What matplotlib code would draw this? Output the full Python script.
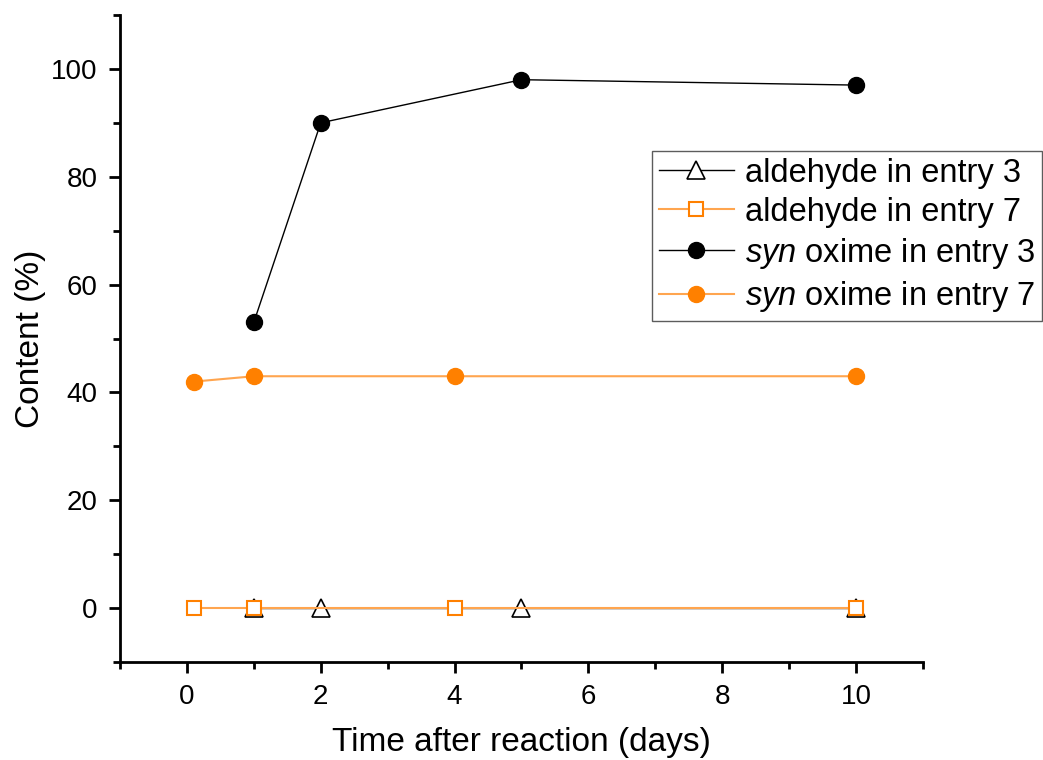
import matplotlib
matplotlib.use("Agg")
import matplotlib.pyplot as plt
from matplotlib.ticker import MultipleLocator

plt.rcParams['font.family'] = ['Liberation Sans', 'DejaVu Sans']
plt.rcParams['mathtext.fontset'] = 'custom'
plt.rcParams['mathtext.it'] = 'Liberation Sans:italic'
plt.rcParams['mathtext.rm'] = 'Liberation Sans'

x_e3 = [1, 2, 5, 10]
x_e7 = [0.1, 1, 4, 10]
ald_e3 = [0, 0, 0, 0]
ald_e7 = [0, 0, 0, 0]
syn_e3 = [53, 90, 98, 97]
syn_e7 = [42, 43, 43, 43]
labels = ["aldehyde in entry 3", "aldehyde in entry 7",
          r"$\it{syn}$ oxime in entry 3", r"$\it{syn}$ oxime in entry 7"]

orange = "#FF8000"
orange_line = "#FFA54F"

fig = plt.figure(figsize=(10.43, 7.6), dpi=100)
ax = fig.add_axes([120/1043, 1-662/760, (923-120)/1043, (662-15)/760])

l1, = ax.plot(x_e3, ald_e3, color='black', lw=1, marker='^', ms=13.5,
              mfc='white', mec='black', mew=1.2, zorder=3)
l2, = ax.plot(x_e7, ald_e7, color=orange_line, lw=1.5, marker='s', ms=10,
              mfc='white', mec=orange, mew=1.5, zorder=4)
l3, = ax.plot(x_e3, syn_e3, color='black', lw=1, marker='o', ms=11.5,
              mfc='black', mec='black', zorder=3)
l4, = ax.plot(x_e7, syn_e7, color=orange_line, lw=1.5, marker='o', ms=11.5,
              mfc=orange, mec=orange, zorder=3)

ax.set_xlim(-1, 11)
ax.set_ylim(-10, 110)
ax.xaxis.set_major_locator(MultipleLocator(2))
ax.xaxis.set_minor_locator(MultipleLocator(1))
ax.yaxis.set_major_locator(MultipleLocator(20))
ax.yaxis.set_minor_locator(MultipleLocator(10))
for s in ['top', 'right']:
    ax.spines[s].set_visible(False)
for s in ['left', 'bottom']:
    ax.spines[s].set_linewidth(2)
ax.tick_params(which='major', direction='out', length=8, width=2, labelsize=20, pad=8)
ax.tick_params(which='minor', direction='out', length=5, width=2)

ax.set_xlabel("Time after reaction (days)", fontsize=24, labelpad=12)
ax.set_ylabel("Content (%)", fontsize=24, labelpad=4)

leg = fig.legend([l1, l2, l3, l4], labels, loc='upper left',
                 bbox_to_anchor=(652/1043, 1-151/760), fontsize=23.5,
                 frameon=True, fancybox=False, edgecolor='#333333',
                 labelspacing=0.25, handlelength=2.3, handletextpad=0.35,
                 borderpad=0.2, borderaxespad=0)
leg.get_frame().set_linewidth(1)

fig.savefig("out.png", dpi=100)
